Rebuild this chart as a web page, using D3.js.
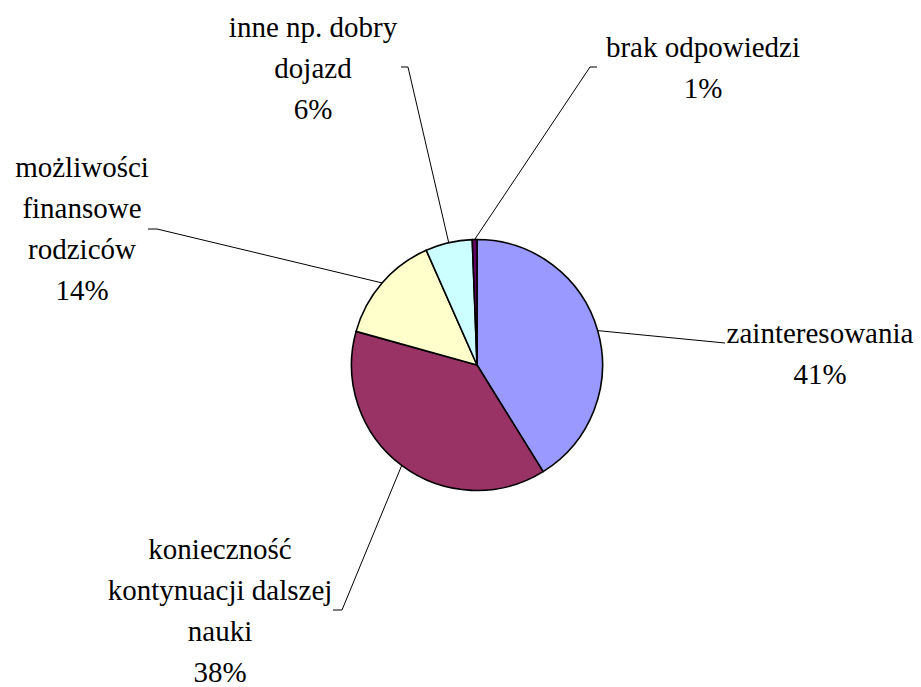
<!DOCTYPE html>
<html>
<head>
<meta charset="utf-8">
<script src="https://cdn.jsdelivr.net/npm/d3@7"></script>
</head>
<body style="margin:0;background:#fff">
<script>
// ---- data ----
const categories = [
  "zainteresowania",
  "konieczność kontynuacji dalszej nauki",
  "możliwości finansowe rodziców",
  "inne np. dobry dojazd",
  "brak odpowiedzi"
];
const values = [41, 38, 14, 6, 0.6];
const colors = ["#9999FF", "#993366", "#FFFFCC", "#CCFFFF", "#660066"];
// wrapped label text (as shown in chart)
const labelText = [
  ["zainteresowania"],
  ["konieczność", "kontynuacji dalszej", "nauki"],
  ["możliwości", "finansowe", "rodziców"],
  ["inne np. dobry", "dojazd"],
  ["brak odpowiedzi"]
];

// ---- layout (positions of labels / leader elbows) ----
const W = 921, H = 687;
const cx = 477, cy = 365, R = 125.5;
const lineGap = 41;
const FONT = "Liberation Serif";
const labelLayout = [
  {x: 820, y: 343, elbow: [725, 343], end: [725, 343]},
  {x: 220, y: 559, elbow: [342, 610], end: [333, 610]},
  {x: 82,  y: 177, elbow: [157, 229], end: [148, 229]},
  {x: 313, y: 37,  elbow: [408, 67],  end: [401, 67]},
  {x: 703, y: 57,  elbow: [590, 67],  end: [597, 67]}
];

const total = d3.sum(values);
const data = categories.map((c, i) => ({name: c, value: values[i], color: colors[i], lines: labelText[i], lay: labelLayout[i]}));

const svg = d3.select("body").append("svg")
  .attr("width", W).attr("height", H);

const pie = d3.pie().value(d => d.value).sort(null).startAngle(0).endAngle(2 * Math.PI);
const arc = d3.arc().innerRadius(0).outerRadius(R);
const arcs = pie(data);

const g = svg.append("g").attr("transform", `translate(${cx},${cy})`);
g.selectAll("path").data(arcs).enter().append("path")
  .attr("d", arc)
  .attr("fill", d => d.data.color)
  .attr("stroke", "#000")
  .attr("stroke-width", 1.6)
  .attr("stroke-linejoin", "round");

// leader lines
const lineGen = d3.line();
const lg = svg.append("g");
lg.selectAll("path").data(arcs).enter().append("path")
  .attr("d", d => {
    const a = (d.startAngle + d.endAngle) / 2;
    const p0 = [cx + R * Math.sin(a), cy - R * Math.cos(a)];
    return lineGen([p0, d.data.lay.elbow, d.data.lay.end]);
  })
  .attr("fill", "none")
  .attr("stroke", "#000")
  .attr("stroke-width", 1);

// labels: one text element per line
const fmt = v => Math.round(v / total * 100) + "%";
const rows = [];
data.forEach(d => {
  d.lines.concat([fmt(d.value)]).forEach((s, k) => rows.push({s, x: d.lay.x, y: d.lay.y + k * lineGap}));
});
rows.forEach(r => {
  svg.append("text")
    .attr("x", r.x)
    .attr("y", r.y)
    .attr("text-anchor", "middle")
    .style("font-family", FONT, "important")
    .style("font-size", "29px")
    .style("fill", "#000")
    .text(r.s);
});
</script>
</body>
</html>
